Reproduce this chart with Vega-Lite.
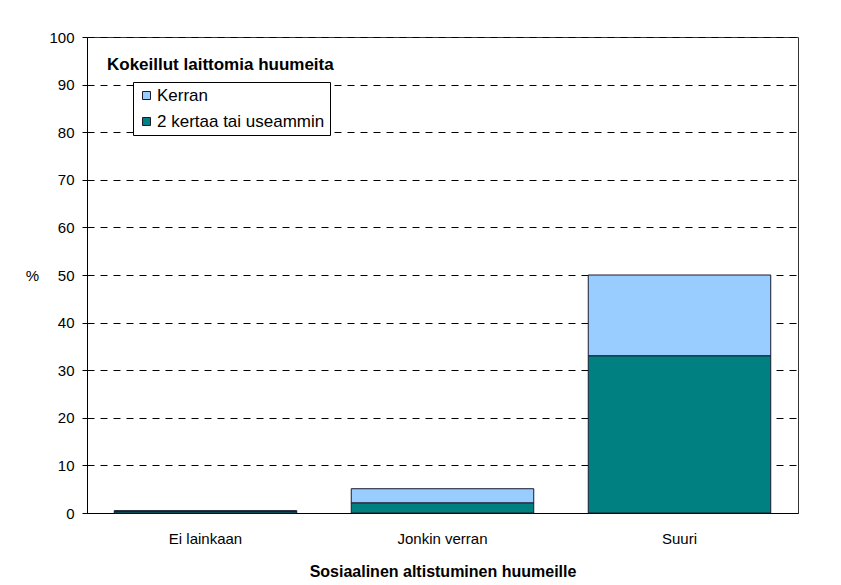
{
  "$schema": "https://vega.github.io/schema/vega-lite/v6.json",
  "width": 711,
  "height": 476,
  "autosize": {"type": "none"},
  "padding": {"left": 87, "top": 37, "right": 43, "bottom": 72},
  "background": "white",
  "title": {
    "text": "Kokeillut laittomia huumeita",
    "anchor": "start",
    "orient": "top",
    "frame": "group",
    "offset": -44,
    "dx": 20,
    "font": "Liberation Sans",
    "fontSize": 17,
    "fontWeight": "bold",
    "color": "black"
  },
  "data": {
    "values": [
      {"altistuminen": "Ei lainkaan", "sarja": "Kerran", "osuus": 0.2},
      {"altistuminen": "Ei lainkaan", "sarja": "2 kertaa tai useammin", "osuus": 0.3},
      {"altistuminen": "Jonkin verran", "sarja": "Kerran", "osuus": 3.0},
      {"altistuminen": "Jonkin verran", "sarja": "2 kertaa tai useammin", "osuus": 2.1},
      {"altistuminen": "Suuri", "sarja": "Kerran", "osuus": 17.0},
      {"altistuminen": "Suuri", "sarja": "2 kertaa tai useammin", "osuus": 33.0}
    ]
  },
  "mark": {"type": "bar", "stroke": "#1a1a2e", "strokeWidth": 1},
  "encoding": {
    "x": {
      "field": "altistuminen",
      "type": "nominal",
      "sort": ["Ei lainkaan", "Jonkin verran", "Suuri"],
      "scale": {"paddingInner": 0.23, "paddingOuter": 0.115},
      "axis": {
        "title": "Sosiaalinen altistuminen huumeille",
        "labelAngle": 0,
        "ticks": false,
        "labelPadding": 18,
        "labelFont": "Liberation Sans",
        "labelFontSize": 15,
        "labelColor": "black",
        "titleFont": "Liberation Sans",
        "titleFontSize": 16,
        "titleFontWeight": "bold",
        "titleColor": "black",
        "titlePadding": 17,
        "domainColor": "black",
        "grid": false
      }
    },
    "y": {
      "field": "osuus",
      "type": "quantitative",
      "stack": "zero",
      "scale": {"domain": [0, 100], "nice": false},
      "axis": {
        "title": "%",
        "titleAngle": 0,
        "titleAlign": "center",
        "titleBaseline": "middle",
        "titleX": -55,
        "titleY": 238,
        "titleFont": "Liberation Sans",
        "titleFontSize": 15,
        "titleFontWeight": "normal",
        "titleColor": "black",
        "values": [0, 10, 20, 30, 40, 50, 60, 70, 80, 90, 100],
        "tickSize": 5,
        "tickColor": "black",
        "labelPadding": 8,
        "labelFont": "Liberation Sans",
        "labelFontSize": 15,
        "labelColor": "black",
        "domainColor": "black",
        "grid": true,
        "gridColor": "black",
        "gridDash": [7, 6],
        "gridWidth": 1
      }
    },
    "color": {
      "field": "sarja",
      "type": "nominal",
      "scale": {"domain": ["Kerran", "2 kertaa tai useammin"], "range": ["#99CCFF", "#008080"]},
      "legend": {
        "title": null,
        "orient": "none",
        "legendX": 46,
        "legendY": 45,
        "strokeColor": "black",
        "fillColor": "white",
        "padding": 5,
        "symbolType": "square",
        "symbolSize": 64,
        "symbolStrokeColor": "#1a1a2e",
        "symbolStrokeWidth": 1,
        "labelFont": "Liberation Sans",
        "labelFontSize": 17,
        "labelLimit": 400,
        "labelColor": "black",
        "labelOffset": 2,
        "rowPadding": 8,
        "cornerRadius": 0
      }
    },
    "order": {"field": "sarja", "sort": "ascending"}
  },
  "config": {
    "view": {"stroke": "#333", "strokeWidth": 1}
  }
}
